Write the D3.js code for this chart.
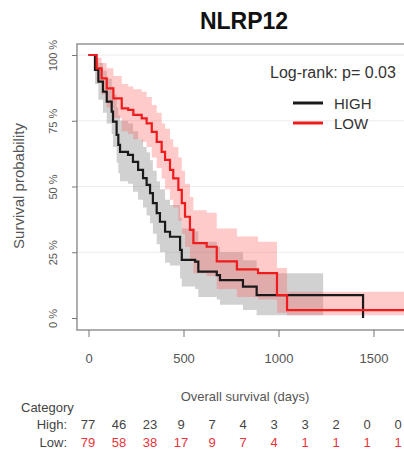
<!DOCTYPE html>
<html>
<head>
<meta charset="utf-8">
<script src="https://cdn.jsdelivr.net/npm/d3@7"></script>
<style>
  body { margin: 0; background: #fff; }
  svg { font-family: "Liberation Sans", Arial, sans-serif; }
  .tick text { fill: #555; }
</style>
</head>
<body>
<svg id="chart" width="404" height="453"></svg>
<script>
// KM estimates (days, survival fraction)
const highTimes = [0, 34, 52, 76, 96, 122, 129, 148, 157, 166, 208, 234, 261, 287, 306, 324, 339, 359, 376, 403, 429, 482, 491, 561, 578, 675, 692, 813, 885, 1445];
const highSurv = [1, 0.943, 0.899, 0.861, 0.823, 0.785, 0.747, 0.696, 0.658, 0.632, 0.62, 0.594, 0.563, 0.532, 0.506, 0.475, 0.437, 0.399, 0.366, 0.328, 0.309, 0.259, 0.221, 0.214, 0.176, 0.163, 0.144, 0.119, 0.087, 0];
const highUpper = [1, 0.99, 0.97, 0.94, 0.91, 0.88, 0.85, 0.8, 0.77, 0.75, 0.74, 0.71, 0.68, 0.65, 0.63, 0.6, 0.56, 0.52, 0.49, 0.45, 0.43, 0.38, 0.34, 0.33, 0.29, 0.27, 0.25, 0.22, 0.17];
const highLower = [1, 0.89, 0.83, 0.78, 0.74, 0.7, 0.65, 0.59, 0.55, 0.52, 0.51, 0.48, 0.45, 0.42, 0.39, 0.36, 0.32, 0.28, 0.25, 0.21, 0.2, 0.15, 0.12, 0.11, 0.08, 0.07, 0.05, 0.03, 0.01];
const highBandEnd = 1235;

const lowTimes = [0, 43, 69, 96, 131, 175, 209, 236, 280, 306, 333, 359, 385, 403, 429, 446, 473, 491, 508, 534, 552, 622, 675, 781, 892, 992, 1045];
const lowSurv = [1, 0.949, 0.911, 0.873, 0.835, 0.797, 0.791, 0.772, 0.759, 0.74, 0.708, 0.67, 0.632, 0.601, 0.563, 0.531, 0.487, 0.437, 0.385, 0.335, 0.285, 0.271, 0.215, 0.185, 0.171, 0.087, 0.03];
const lowUpper = [1, 0.99, 0.97, 0.95, 0.92, 0.89, 0.88, 0.87, 0.86, 0.84, 0.81, 0.78, 0.74, 0.72, 0.68, 0.65, 0.61, 0.56, 0.51, 0.46, 0.41, 0.4, 0.34, 0.31, 0.29, 0.19, 0.1];
const lowLower = [1, 0.9, 0.85, 0.8, 0.76, 0.71, 0.7, 0.68, 0.67, 0.65, 0.61, 0.57, 0.53, 0.49, 0.45, 0.42, 0.37, 0.32, 0.27, 0.22, 0.17, 0.16, 0.11, 0.08, 0.07, 0.02, 0.01];
const lowLastTime = 1700;

const xTicks = [0, 500, 1000, 1500];
const yTicks = [0, 0.25, 0.5, 0.75, 1];
const yTickLabels = ["0 %", "25 %", "50 %", "75 %", "100 %"];

const riskHigh = [77, 46, 23, 9, 7, 4, 3, 3, 2, 0, 0];
const riskLow = [79, 58, 38, 17, 9, 7, 4, 1, 1, 1, 1];

const box = { left: 77, top: 44, right: 420, bottom: 330 };

const x = d3.scaleLinear().domain([0, 1500]).range([88.5, 373.5]);
const y = d3.scaleLinear().domain([0, 1]).range([318, 55]);

const svg = d3.select("#chart");

svg.append("text")
  .attr("x", 244).attr("y", 29)
  .attr("text-anchor", "middle")
  .attr("font-size", 23).attr("font-weight", "bold")
  .attr("fill", "#111")
  .text("NLRP12");

svg.append("defs").append("clipPath").attr("id", "clip")
  .append("rect")
  .attr("x", box.left).attr("y", box.top)
  .attr("width", box.right - box.left).attr("height", box.bottom - box.top);

// grid
svg.append("g")
  .selectAll("line")
  .data(yTicks.slice(1))
  .join("line")
  .attr("x1", box.left).attr("x2", box.right)
  .attr("y1", (d) => y(d)).attr("y2", (d) => y(d))
  .attr("stroke", "#ececec").attr("stroke-width", 1);

const plot = svg.append("g").attr("clip-path", "url(#clip)");

const band = d3.area()
  .curve(d3.curveStepAfter)
  .x((d) => x(d[0]))
  .y0((d) => y(d[2]))
  .y1((d) => y(d[1]));

const line = d3.line()
  .curve(d3.curveStepAfter)
  .x((d) => x(d[0]))
  .y((d) => y(d[1]));

const highBand = highUpper.map((u, i) => [highTimes[i], u, highLower[i]]);
highBand.push([highBandEnd, highUpper[highUpper.length - 1], highLower[highLower.length - 1]]);
const lowBand = lowUpper.map((u, i) => [lowTimes[i], u, lowLower[i]]);
lowBand.push([lowLastTime, lowUpper[lowUpper.length - 1], lowLower[lowLower.length - 1]]);

plot.append("path").attr("d", band(highBand))
  .attr("fill", "#8c8c8c").attr("fill-opacity", 0.4);
plot.append("path").attr("d", band(lowBand))
  .attr("fill", "#ff5a5a").attr("fill-opacity", 0.32);

const highLine = highTimes.map((t, i) => [t, highSurv[i]]);
const lowLine = lowTimes.map((t, i) => [t, lowSurv[i]]);
lowLine.push([lowLastTime, lowSurv[lowSurv.length - 1]]);

plot.append("path").attr("d", line(highLine))
  .attr("fill", "none").attr("stroke", "#1a1a1a").attr("stroke-width", 2.2);
plot.append("path").attr("d", line(lowLine))
  .attr("fill", "none").attr("stroke", "#ee1c1c").attr("stroke-width", 2.2);

// frame
svg.append("rect")
  .attr("x", box.left).attr("y", box.top)
  .attr("width", box.right - box.left).attr("height", box.bottom - box.top)
  .attr("fill", "none").attr("stroke", "#9a9a9a").attr("stroke-width", 1.6);

// axes
const xAxis = svg.append("g")
  .attr("transform", `translate(0,${box.bottom})`)
  .call(d3.axisBottom(x).tickValues(xTicks).tickSize(7).tickPadding(17).tickFormat(d3.format("d")));
xAxis.select(".domain").remove();
xAxis.selectAll(".tick line").attr("stroke", "#777");
xAxis.selectAll(".tick text").attr("font-size", 13).attr("font-family", "Liberation Sans, Arial");

const yAxis = svg.append("g")
  .attr("transform", `translate(${box.left},0)`)
  .call(d3.axisLeft(y).tickValues(yTicks).tickSize(5).tickFormat((d, i) => yTickLabels[i]));
yAxis.select(".domain").remove();
yAxis.selectAll(".tick line").attr("stroke", "#777");
yAxis.selectAll(".tick text")
  .attr("font-size", 11).attr("font-family", "Liberation Sans, Arial")
  .attr("text-anchor", "middle")
  .attr("transform", "translate(-24,0) rotate(-90)")
  .attr("x", 0).attr("dy", "0.35em");

svg.append("text")
  .attr("transform", "translate(24,186) rotate(-90)")
  .attr("text-anchor", "middle")
  .attr("font-size", 15).attr("fill", "#555")
  .text("Survival probability");

svg.append("text")
  .attr("x", 245).attr("y", 401)
  .attr("text-anchor", "middle")
  .attr("font-size", 13).attr("fill", "#555")
  .text("Overall survival (days)");

// legend
svg.append("text")
  .attr("x", 270).attr("y", 78)
  .attr("font-size", 16).attr("fill", "#333")
  .text("Log-rank: p= 0.03");

const legend = [["HIGH", "#1a1a1a"], ["LOW", "#ee1c1c"]];
const lg = svg.append("g").selectAll("g").data(legend).join("g")
  .attr("transform", (d, i) => `translate(0,${103 + i * 20})`);
lg.append("line")
  .attr("x1", 293).attr("x2", 323)
  .attr("stroke", (d) => d[1]).attr("stroke-width", 3);
lg.append("text")
  .attr("x", 334).attr("dy", "0.38em")
  .attr("font-size", 15).attr("fill", "#333")
  .text((d) => d[0]);

// risk table
svg.append("text")
  .attr("x", 21).attr("y", 412)
  .attr("font-size", 13).attr("fill", "#444")
  .text("Category");

const col = d3.scalePoint().domain(d3.range(riskHigh.length)).range([88, 398]);
const rows = [["High:", riskHigh, "#444", 429], ["Low:", riskLow, "#e8333a", 447]];
rows.forEach(([label, vals, color, yy]) => {
  svg.append("text")
    .attr("x", 67).attr("y", yy)
    .attr("text-anchor", "end")
    .attr("font-size", 13).attr("fill", "#444")
    .text(label);
  svg.append("g").selectAll("text").data(vals).join("text")
    .attr("x", (d, i) => col(i)).attr("y", yy)
    .attr("text-anchor", "middle")
    .attr("font-size", 13).attr("fill", color)
    .text((d) => d);
});
</script>
</body>
</html>
